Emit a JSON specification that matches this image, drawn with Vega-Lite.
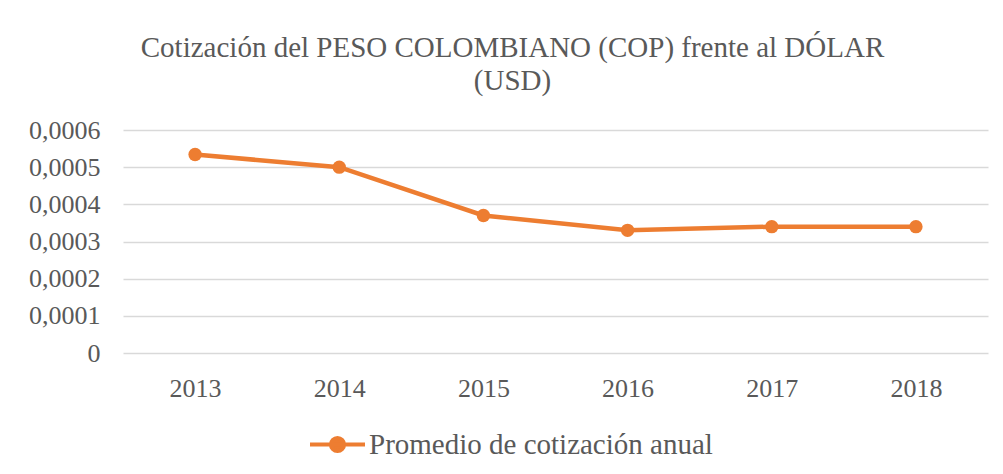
{
  "$schema": "https://vega.github.io/schema/vega-lite/v6.json",
  "width": 865,
  "height": 223,
  "autosize": {"type": "none"},
  "padding": {"left": 123, "top": 130, "right": 15, "bottom": 121},
  "background": "white",
  "title": {
    "text": ["Cotización del PESO COLOMBIANO (COP) frente al DÓLAR", "(USD)"],
    "font": "Liberation Serif",
    "fontSize": 29,
    "fontWeight": "normal",
    "color": "#595959",
    "anchor": "middle",
    "frame": "group",
    "dx": -43,
    "offset": 21,
    "lineHeight": 33
  },
  "data": {
    "values": [
      {"year": "2013", "value": 0.000534, "serie": "Promedio de cotización anual"},
      {"year": "2014", "value": 0.0005, "serie": "Promedio de cotización anual"},
      {"year": "2015", "value": 0.00037, "serie": "Promedio de cotización anual"},
      {"year": "2016", "value": 0.00033, "serie": "Promedio de cotización anual"},
      {"year": "2017", "value": 0.00034, "serie": "Promedio de cotización anual"},
      {"year": "2018", "value": 0.00034, "serie": "Promedio de cotización anual"}
    ]
  },
  "mark": {
    "type": "line",
    "strokeWidth": 4.5,
    "strokeCap": "round",
    "point": {"size": 180, "filled": true, "opacity": 1}
  },
  "encoding": {
    "x": {
      "field": "year",
      "type": "ordinal",
      "scale": {"paddingInner": 0, "paddingOuter": 0.5},
      "axis": {
        "title": null,
        "labelAngle": 0,
        "ticks": false,
        "domain": false,
        "labelPadding": 22,
        "labelFont": "Liberation Serif",
        "labelFontSize": 26,
        "labelColor": "#595959"
      }
    },
    "y": {
      "field": "value",
      "type": "quantitative",
      "scale": {"domain": [0, 0.0006], "nice": false},
      "axis": {
        "title": null,
        "values": [0, 0.0001, 0.0002, 0.0003, 0.0004, 0.0005, 0.0006],
        "labelExpr": "replace(format(datum.value, '.4~f'), '.', ',')",
        "ticks": false,
        "domain": false,
        "labelPadding": 23,
        "labelFont": "Liberation Serif",
        "labelFontSize": 26,
        "labelColor": "#595959",
        "gridColor": "#d9d9d9",
        "gridWidth": 1.5
      }
    },
    "color": {
      "field": "serie",
      "type": "nominal",
      "scale": {"range": ["#ED7D31"]},
      "legend": {
        "title": null,
        "orient": "none",
        "legendX": 185,
        "legendY": 285,
        "padding": 0,
        "labelFont": "Liberation Serif",
        "labelFontSize": 29,
        "labelColor": "#595959",
        "labelLimit": 500,
        "labelOffset": 2,
        "symbolType": "M-1,0H1M-0.24,0a0.24,0.24 0 1,0 0.48,0a0.24,0.24 0 1,0 -0.48,0Z",
        "symbolSize": 3025,
        "symbolStrokeWidth": 4,
        "symbolFillColor": "#ED7D31",
        "symbolStrokeColor": "#ED7D31",
        "symbolOpacity": 1
      }
    }
  },
  "config": {
    "view": {"stroke": null},
    "axisX": {"grid": false}
  }
}
